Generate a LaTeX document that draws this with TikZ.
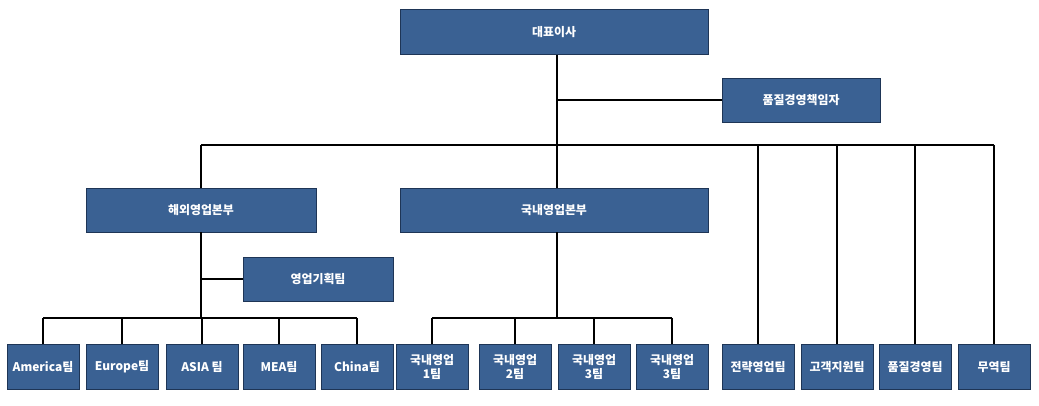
\documentclass[tikz,border=0pt]{standalone}
\usepackage{fontspec}
\setmainfont{Noto Sans CJK KR}
\usepackage{tikz}

\definecolor{boxblue}{HTML}{3A6193}
\definecolor{boxline}{HTML}{1E3556}

\tikzset{
  orgbox/.style={draw=boxline, line width=0.6pt, fill=boxblue, text=white,
    font=\bfseries\fontsize{8.5}{10}\selectfont, align=center, inner sep=0pt},
  link/.style={line width=1.3pt, black}
}

\begin{document}
\begin{tikzpicture}[x=0.025cm,y=-0.025cm]
  \useasboundingbox (0,0) rectangle (1039,406);

  % top
  \node[orgbox, minimum width=7.7cm, minimum height=1.12cm] (ceo) at (554,32) {대표이사};
  \node[orgbox, minimum width=3.95cm, minimum height=1.1cm] (qm) at (801,100) {품질경영책임자};

  % divisions
  \node[orgbox, minimum width=5.75cm, minimum height=1.1cm] (ovs) at (201,210) {해외영업본부};
  \node[orgbox, minimum width=7.7cm, minimum height=1.1cm] (dom) at (554,210) {국내영업본부};
  \node[orgbox, minimum width=3.75cm, minimum height=1.1cm] (plan) at (318,279) {영업기획팀};

  % bottom row
  \foreach \nm/\x/\txt in {am/43/America팀, eu/122/Europe팀, as/202/ASIA 팀, me/279/MEA팀, cn/357/China팀,
      d1/432/국내영업\\1팀, d2/515/국내영업\\2팀, d3/594/국내영업\\3팀, d4/672/국내영업\\3팀,
      st/758/전략영업팀, cs/837/고객지원팀, qt/915/품질경영팀, tr/994/무역팀}
    \node[orgbox, minimum width=1.8cm, minimum height=1.12cm] (\nm) at (\x,367) {\txt};

  % connectors
  \coordinate (hub) at (557,145);
  \draw[link] (ceo.south -| hub) -- (hub);
  \draw[link] (qm.west) -- (qm.west -| hub);
  \draw[link] (ovs.north |- hub) -- (tr.north |- hub);
  \draw[link] (ovs.north |- hub) -- (ovs.north);
  \draw[link] (hub) -- (dom.north -| hub);
  \foreach \nm in {st,cs,qt,tr}
    \draw[link] (\nm.north |- hub) -- (\nm.north);

  \coordinate (obar) at (201,318);
  \draw[link] (ovs.south) -- (obar);
  \draw[link] (plan.west) -- (plan.west -| obar);
  \draw[link] (am.north |- obar) -- (cn.north |- obar);
  \foreach \nm in {am,eu,as,me,cn}
    \draw[link] (\nm.north |- obar) -- (\nm.north);

  \coordinate (dbar) at (557,318);
  \draw[link] (dom.south -| dbar) -- (dbar);
  \draw[link] (d1.north |- dbar) -- (d4.north |- dbar);
  \foreach \nm in {d1,d2,d3,d4}
    \draw[link] (\nm.north |- dbar) -- (\nm.north);
\end{tikzpicture}
\end{document}
